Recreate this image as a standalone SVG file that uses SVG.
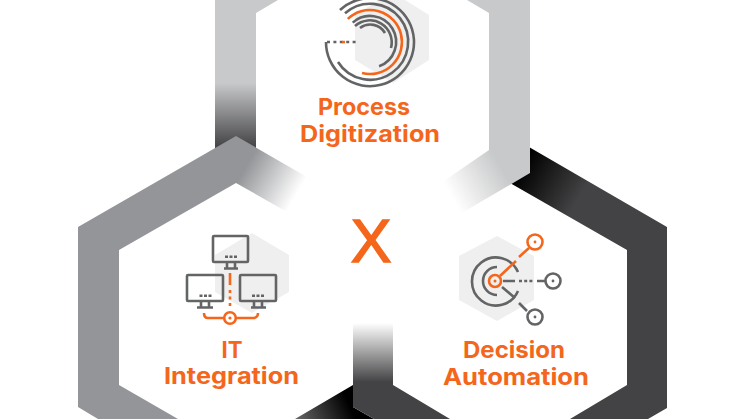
<svg xmlns="http://www.w3.org/2000/svg" width="746" height="419" viewBox="0 0 746 419">
<style>
.t{font-family:"Inter","Liberation Sans",sans-serif;font-weight:700;font-size:23px;fill:#f4661b;text-anchor:middle}
.g{fill:none;stroke:#636466;stroke-width:2.6}
.o{fill:none;stroke:#f4661b;stroke-width:2.6}
.hx{fill:#efefef}
.dg{fill:#636466}
.do{fill:#f4661b}
</style>
<defs>
<linearGradient id="gTopL" gradientUnits="userSpaceOnUse" x1="0" y1="83" x2="0" y2="145"><stop offset="0" stop-color="#c8c9ca"/><stop offset="1" stop-color="#48484a"/></linearGradient>
<linearGradient id="gTopR" gradientUnits="userSpaceOnUse" x1="500" y1="165" x2="450" y2="194"><stop offset="0" stop-color="#c8c9ca"/><stop offset="1" stop-color="#fff"/></linearGradient>
<linearGradient id="gLeft" gradientUnits="userSpaceOnUse" x1="247" y1="165" x2="297" y2="194"><stop offset="0" stop-color="#939598"/><stop offset="1" stop-color="#fff"/></linearGradient>
<linearGradient id="gLow" gradientUnits="userSpaceOnUse" x1="345" y1="395" x2="290" y2="419"><stop offset="0" stop-color="#000"/><stop offset="1" stop-color="#707072"/></linearGradient>
<linearGradient id="gRight" gradientUnits="userSpaceOnUse" x1="525" y1="160" x2="582" y2="193"><stop offset="0" stop-color="#000"/><stop offset="1" stop-color="#434345"/></linearGradient>
<linearGradient id="gRightL" gradientUnits="userSpaceOnUse" x1="0" y1="323" x2="0" y2="382"><stop offset="0" stop-color="#fff"/><stop offset="1" stop-color="#434345"/></linearGradient>
</defs>
<rect width="746" height="419" fill="#fff"/>

<g id="hex-decision-band">
<polygon points="510,136 667,227 667,408 648,419 570,419 627,385 627,250 510,183" fill="url(#gRight)"/>
<polygon points="295,419 353,385 353,407 374,419" fill="url(#gLow)"/>
<polygon points="353,323 393,323 393,385 450,419 374,419 353,407" fill="url(#gRightL)"/>
</g>
<g id="hex-process-band">
<polygon points="215,0 278,0 256,13 256,152 215,152" fill="url(#gTopL)"/>
<polygon points="467,0 530,0 530,150 489,150 489,13" fill="#c8c9ca"/>
<polygon points="489,149 530,149 530,173 460,214 425,194 489,150" fill="url(#gTopR)"/>
</g>
<g id="hex-it-band">
<polygon points="236,136 78,227 78,407 98,419 178,419 119,385 119,250 236,183" fill="#939598"/>
<polygon points="236,136 236,183 280,208 310,225 335,193 300,173" fill="url(#gLeft)"/>
</g>

<g id="node-process">
<polygon class="hx" points="392,-8 429,15 429,60 393,83 355,60 355,15"/>
<path class="g" d="M326 42A44 44 0 1 0 340 10"/>
<path class="g" d="M338 62A38 38 0 1 0 345 13.3"/>
<path class="o" d="M347.8 18.9A32 32 0 1 1 362 73"/>
<path class="g" d="M352.7 22.6A26 26 0 1 1 379.1 66.3"/>
<path class="g" d="M355 26A22 22 0 0 1 391 48"/>
<path class="g" d="M360 28A17 17 0 0 1 385 33"/>
<path class="g" stroke-dasharray="3 3.4" d="M327 42H358"/>
<rect class="do" x="342" y="40.8" width="3" height="2.5"/>
<text class="t" x="364" y="115" textLength="92" lengthAdjust="spacingAndGlyphs">Process</text>
<text class="t" x="370" y="142" textLength="140" lengthAdjust="spacingAndGlyphs">Digitization</text>
</g>

<g id="node-it">
<polygon class="hx" points="252,233 289,255 289,292 252,313 215,292 215,255"/>
<g class="g">
<rect x="213" y="236" width="35" height="26" rx="1"/>
<rect x="187" y="275" width="36" height="26" rx="1"/>
<rect x="240" y="275" width="36" height="26" rx="1"/>
<path d="M227 262V268M235 262V268M224 268.500H238"/>
<path d="M201 301V307M209 301V307M197 307.500H213"/>
<path d="M254 301V307M262 301V307M251 307.500H266"/>
</g>
<rect class="dg" x="225" y="255.500" width="3" height="2.500"/><rect class="dg" x="229.500" y="255.500" width="3" height="2.500"/><rect class="dg" x="234" y="255.500" width="3" height="2.500"/>
<rect class="dg" x="199.500" y="294.500" width="3" height="2.500"/><rect class="dg" x="204" y="294.500" width="3" height="2.500"/><rect class="dg" x="208.500" y="294.500" width="3" height="2.500"/>
<rect class="dg" x="252" y="294.500" width="3" height="2.500"/><rect class="dg" x="256.500" y="294.500" width="3" height="2.500"/><rect class="dg" x="261" y="294.500" width="3" height="2.500"/>
<path class="o" d="M230 273V285M230 290V293M230 296.500V299.500M230 303V306"/>
<circle class="o" cx="230" cy="318" r="5.800"/>
<circle class="do" cx="230" cy="318" r="1.600"/>
<path class="o" d="M204 313C204 316 205 318 208 318H224M236 318H253C256 318 258 316 258 313"/>
<text class="t" x="232" y="358" textLength="21" lengthAdjust="spacingAndGlyphs">IT</text>
<text class="t" x="231.500" y="384" textLength="135" lengthAdjust="spacingAndGlyphs">Integration</text>
</g>

<g id="node-decision">
<polygon class="hx" points="497,236 534,256 534,300 497,321 459,300 459,256"/>
<path class="g" d="M518 272A24 24 0 1 0 518 291"/>
<path class="g" d="M497 267A14 14 0 0 0 497 295"/>
<path class="o" d="M500 276L516 261M519 257L529 248"/>
<circle class="o" cx="495" cy="281" r="6"/>
<circle class="do" cx="495" cy="281" r="1.500"/>
<circle class="o" cx="535" cy="242" r="7.500"/>
<circle class="do" cx="535" cy="242" r="1.400"/>
<path class="g" d="M503 281H515M537 281H545"/>
<path class="g" stroke-dasharray="3 2.200" d="M519 281H533"/>
<circle class="g" cx="553" cy="281" r="7.500"/>
<circle class="dg" cx="553" cy="281" r="1.400"/>
<path class="g" d="M502 287L515 298M519 303L527 311"/>
<circle class="g" cx="535" cy="317" r="7.500"/>
<circle class="dg" cx="535" cy="317" r="1.400"/>
<text class="t" x="514" y="358" textLength="102" lengthAdjust="spacingAndGlyphs">Decision</text>
<text class="t" x="516" y="385" textLength="146" lengthAdjust="spacingAndGlyphs">Automation</text>
</g>

<text id="operator" x="371" y="261.500" font-family="'Liberation Sans',sans-serif" font-size="61" fill="#f4661b" stroke="#f4661b" stroke-width="1.500" text-anchor="middle">X</text>
</svg>
